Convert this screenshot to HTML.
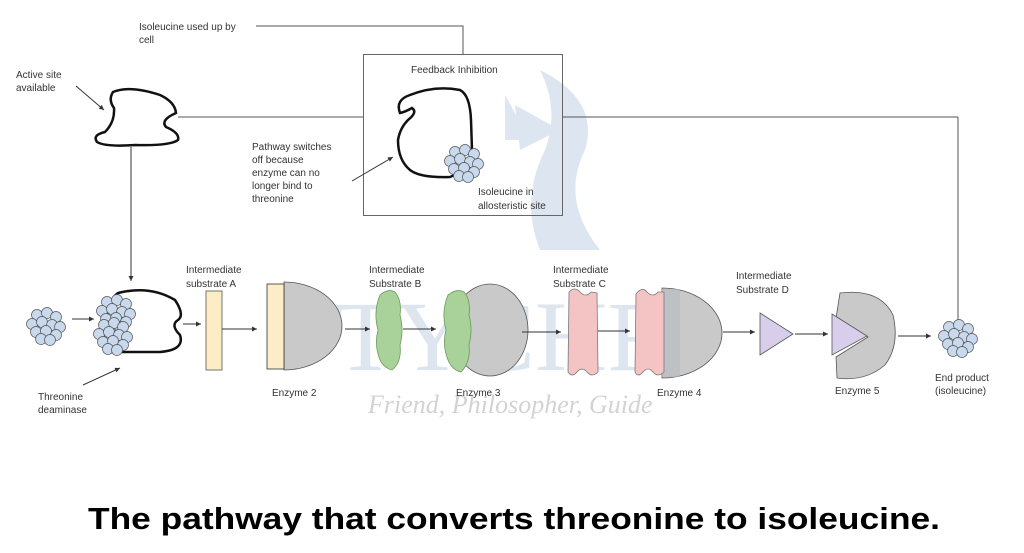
<!DOCTYPE html>
<html><head><meta charset="utf-8"><style>
html,body{margin:0;padding:0;background:#fff;}
svg{display:block;}
text{font-family:"Liberation Sans",sans-serif;font-size:10px;fill:#333;}
</style></head><body>
<svg width="1024" height="553" viewBox="0 0 1024 553" xmlns="http://www.w3.org/2000/svg">
<defs>
<marker id="a" markerWidth="6" markerHeight="6" refX="5" refY="3" orient="auto"><path d="M0,0.5 L5,3 L0,5.5z" fill="#333"/></marker>
<g id="cl">
<circle cx="-8" cy="-10" r="5.5"/><circle cx="2" cy="-12" r="5.5"/><circle cx="11" cy="-8" r="5.5"/>
<circle cx="-13" cy="-1" r="5.5"/><circle cx="-3" cy="-3" r="5.5"/><circle cx="7" cy="0" r="5.5"/><circle cx="15" cy="2" r="5.5"/>
<circle cx="-9" cy="7" r="5.5"/><circle cx="1" cy="6" r="5.5"/><circle cx="11" cy="10" r="5.5"/><circle cx="-4" cy="14" r="5.5"/><circle cx="5" cy="15" r="5.5"/>
</g>
</defs>
<!-- watermark -->
<g opacity="0.35">
<path d="M540,70 Q600,100 585,150 Q560,200 600,250 L540,250 Q520,200 545,150 Q560,110 540,70z" fill="#9fb9d6"/>
<path d="M505,95 L530,140 L505,140z M515,105 L560,130 L520,150z" fill="#9fb9d6"/>
</g>
<text x="335" y="370" style="font-family:'Liberation Serif',serif;font-size:100px;fill:#dde6ef">TYCHR</text>
<text x="368" y="413" style="font-family:'Liberation Serif',serif;font-style:italic;font-size:26px;fill:#d3d3d3">Friend, Philosopher, Guide</text>

<!-- top lines -->
<text x="139" y="30">Isoleucine used up by</text><text x="139" y="43">cell</text>
<polyline points="256,26 463,26 463,54" fill="none" stroke="#555" stroke-width="1"/>
<text x="16" y="78">Active site</text><text x="16" y="91">available</text>
<line x1="76" y1="86" x2="104" y2="110" stroke="#333" marker-end="url(#a)"/>
<path d="M113,92 Q130,85 160,95 Q175,102 176,113 Q160,120 166,127 Q180,133 178,140 Q170,146 135,145 Q105,147 97,142 Q92,135 105,132 Q115,122 114,108 Q108,100 113,92z" fill="none" stroke="#111" stroke-width="2.5"/>
<line x1="178" y1="117" x2="364" y2="117" stroke="#555"/>
<line x1="563" y1="117" x2="958" y2="117" stroke="#555"/>
<line x1="958" y1="117" x2="958" y2="320" stroke="#555"/>
<line x1="131" y1="147" x2="131" y2="281" stroke="#333" marker-end="url(#a)"/>

<!-- feedback box -->
<rect x="363.5" y="54.5" width="199" height="161" fill="none" stroke="#666"/>
<text x="411" y="73">Feedback Inhibition</text>
<path d="M400,113 Q395,100 410,95 Q435,85 460,90 Q470,95 471,120 L472,150 Q468,170 450,177 Q420,178 410,170 Q398,160 398,140 Q400,128 408,120 Q418,112 412,108 Q405,112 400,113z" fill="none" stroke="#111" stroke-width="2.5"/>
<g fill="#c8d9ee" stroke="#555" stroke-width="0.7"><use href="#cl" x="463" y="162"/></g>
<text x="478" y="195">Isoleucine in</text><text x="478" y="209">allosteristic site</text>
<text x="252" y="150">Pathway switches</text><text x="252" y="163">off because</text><text x="252" y="176">enzyme can no</text><text x="252" y="189">longer bind to</text><text x="252" y="202">threonine</text>
<line x1="352" y1="181" x2="393" y2="157" stroke="#333" marker-end="url(#a)"/>

<!-- bottom row -->
<g fill="#c8d9ee" stroke="#555" stroke-width="0.7"><use href="#cl" x="45" y="325"/></g>
<line x1="72" y1="319" x2="94" y2="319" stroke="#333" marker-end="url(#a)"/>
<path d="M118,293 Q150,285 175,300 Q185,315 178,320 Q170,325 180,335 Q185,350 160,352 L110,352 Q100,345 105,320 Q110,298 118,293z" fill="none" stroke="#111" stroke-width="2.5"/>
<g fill="#c8d9ee" stroke="#555" stroke-width="0.7"><use href="#cl" x="115" y="312"/><use href="#cl" x="112" y="335"/></g>
<text x="38" y="400">Threonine</text><text x="38" y="413">deaminase</text>
<line x1="83" y1="385" x2="120" y2="368" stroke="#333" marker-end="url(#a)"/>
<line x1="183" y1="324" x2="201" y2="324" stroke="#333" marker-end="url(#a)"/>

<text x="186" y="273">Intermediate</text><text x="186" y="287">substrate A</text>
<rect x="206" y="291" width="16" height="79" fill="#fdedc6" stroke="#555" stroke-width="0.8"/>
<line x1="222" y1="329" x2="257" y2="329" stroke="#333" marker-end="url(#a)"/>
<path d="M284,282 A58,44 0 0 1 284,370z" fill="#c9c9c9" stroke="#555" stroke-width="0.8"/>
<rect x="267" y="284" width="17" height="85" fill="#fdedc6" stroke="#333" stroke-width="0.8"/>
<text x="272" y="396">Enzyme 2</text>
<line x1="345" y1="329" x2="370" y2="329" stroke="#333" marker-end="url(#a)"/>

<text x="369" y="273">Intermediate</text><text x="369" y="287">Substrate B</text>
<path d="M380,295 Q388,288 395,292 Q402,300 400,315 Q404,330 400,345 Q402,362 392,370 Q384,368 380,360 Q374,345 378,330 Q373,312 380,295z" fill="#a8d29a" stroke="#6a9a5a" stroke-width="0.8"/>
<line x1="403" y1="329" x2="436" y2="329" stroke="#333" marker-end="url(#a)"/>
<ellipse cx="490" cy="330" rx="38" ry="46" fill="#c9c9c9" stroke="#555" stroke-width="0.8"/>
<path d="M448,295 Q457,288 464,292 Q471,300 469,315 Q473,330 469,345 Q471,362 461,372 Q452,370 448,360 Q442,345 446,330 Q441,312 448,295z" fill="#a8d29a" stroke="#6a9a5a" stroke-width="0.8"/>
<text x="456" y="396">Enzyme 3</text>
<line x1="522" y1="332" x2="561" y2="332" stroke="#333" marker-end="url(#a)"/>

<text x="553" y="273">Intermediate</text><text x="553" y="287">Substrate C</text>
<path d="M569,292 Q575,286 580,292 Q586,298 591,292 L597,293 L598,372 Q592,378 587,372 Q582,366 577,372 Q572,378 568,372z" fill="#f4c4c4" stroke="#777" stroke-width="0.8"/>
<line x1="598" y1="331" x2="630" y2="331" stroke="#333" marker-end="url(#a)"/>
<path d="M662,288 A60,45 0 0 1 662,378 Z" fill="#c9c9c9" stroke="#555" stroke-width="0.8"/>
<rect x="662" y="289" width="18" height="88" fill="#b8bcc2" opacity="0.6"/>
<path d="M636,294 Q642,286 647,292 Q653,298 658,292 L664,292 L664,372 Q658,378 653,372 Q648,366 643,372 Q638,378 635,372z" fill="#f4c4c4" stroke="#777" stroke-width="0.8"/>
<text x="657" y="396">Enzyme 4</text>
<line x1="723" y1="332" x2="755" y2="332" stroke="#333" marker-end="url(#a)"/>

<text x="736" y="279">Intermediate</text><text x="736" y="293">Substrate D</text>
<path d="M760,313 L793,334 L760,355z" fill="#d8cdea" stroke="#555" stroke-width="0.8"/>
<line x1="795" y1="334" x2="828" y2="334" stroke="#333" marker-end="url(#a)"/>
<path d="M840,293 Q880,288 893,315 Q900,345 885,365 Q865,382 837,378 L836,357 L868,337 L836,318z" fill="#c9c9c9" stroke="#555" stroke-width="0.8"/>
<path d="M832,314 L867,336 L832,355z" fill="#d8cdea" stroke="#555" stroke-width="0.8"/>
<text x="835" y="394">Enzyme 5</text>
<line x1="898" y1="336" x2="931" y2="336" stroke="#333" marker-end="url(#a)"/>
<g fill="#c8d9ee" stroke="#555" stroke-width="0.7"><use href="#cl" x="957" y="337"/></g>
<text x="935" y="381">End product</text><text x="935" y="394">(isoleucine)</text>

<text x="88" y="529" textLength="852" lengthAdjust="spacingAndGlyphs" style="font-size:31px;font-weight:bold;fill:#000">The pathway that converts threonine to isoleucine.</text>
</svg>
</body></html>
